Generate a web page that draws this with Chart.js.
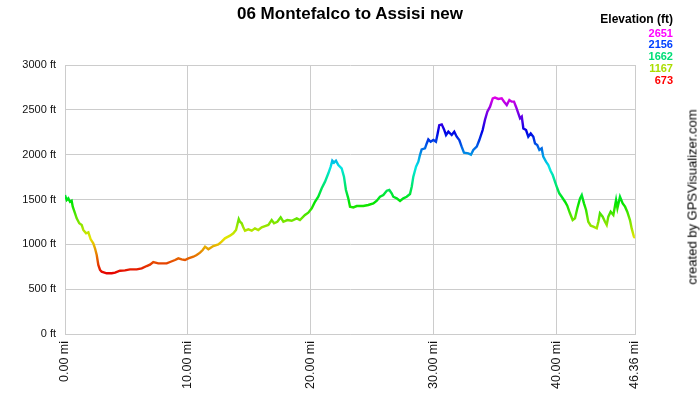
<!DOCTYPE html>
<html>
<head>
<meta charset="utf-8">
<script src="https://cdn.jsdelivr.net/npm/chart.js@4.4.1/dist/chart.umd.min.js"></script>
<style>
  body { margin: 0; background: #fff; }
  #wrap { position: relative; width: 700px; height: 400px; font-family: "Liberation Sans", Arial, sans-serif; }
  #title { position: absolute; left: 0; top: 4px; width: 700px; text-align: center; font-weight: bold; font-size: 17px; }
  #legend { position: absolute; right: 27px; top: 14px; text-align: right; font-weight: bold; font-size: 11px; line-height: 11.7px; }
  #legend .head { font-size: 12px; color: #000; margin-bottom: 2px; }
  #credit { position: absolute; left: 692px; top: 197px; transform: translate(-50%, -50%) rotate(-90deg); white-space: nowrap; font-size: 13px; }
</style>
</head>
<body>
<div id="wrap">
  <canvas id="profile" width="700" height="400"></canvas>
  <div id="title">06 Montefalco to Assisi new</div>
  <div id="legend"></div>
  <div id="credit">created by GPSVisualizer.com</div>
</div>
<script>
// distance along track (mi)
var miles = [0, 0.14, 0.27, 0.41, 0.54, 0.63, 0.81, 0.95, 1.16, 1.36, 1.49, 1.71, 1.90, 2.09, 2.30, 2.44, 2.58, 2.71, 2.85, 2.98,
  3.39, 3.80, 4.07, 4.47, 4.88, 5.29, 5.83, 6.24, 6.64, 6.91, 7.18, 7.59, 8.27, 8.54, 8.95, 9.22, 9.49, 9.76, 10.03, 10.44,
  10.71, 10.98, 11.20, 11.39, 11.66, 12.06, 12.47, 12.74, 13.01, 13.42, 13.69, 13.91, 14.01, 14.13, 14.23, 14.37, 14.50, 14.64,
  14.91, 15.19, 15.45, 15.72, 16.00, 16.27, 16.54, 16.81, 17.00, 17.27, 17.54, 17.76, 18.08, 18.44, 18.85, 19.11, 19.52, 19.79,
  20.07, 20.33, 20.60, 20.88, 21.15, 21.42, 21.61, 21.74, 21.88, 22.04, 22.23, 22.50, 22.69, 22.85, 23.04, 23.18, 23.45, 23.73,
  24.26, 24.67, 25.08, 25.36, 25.62, 25.89, 26.17, 26.38, 26.57, 26.70, 26.98, 27.25, 27.52, 27.79, 28.06, 28.20, 28.33, 28.55,
  28.74, 28.87, 29.01, 29.28, 29.42, 29.55, 29.74, 29.96, 30.17, 30.31, 30.44, 30.64, 30.83, 30.99, 31.18, 31.45, 31.66, 31.86,
  32.07, 32.26, 32.45, 32.80, 33.02, 33.21, 33.49, 33.70, 33.97, 34.16, 34.35, 34.57, 34.79, 34.97, 35.24, 35.52, 35.71, 35.93,
  36.14, 36.33, 36.52, 36.68, 36.87, 37.01, 37.15, 37.28, 37.50, 37.68, 37.88, 38.09, 38.23, 38.41, 38.58, 38.77, 38.90, 39.12,
  39.31, 39.50, 39.67, 39.85, 40.04, 40.20, 40.40, 40.67, 40.85, 41.07, 41.29, 41.48, 41.67, 41.89, 42.03, 42.21, 42.38, 42.56,
  42.76, 42.97, 43.25, 43.38, 43.51, 43.73, 43.92, 44.06, 44.19, 44.38, 44.60, 44.82, 44.93, 45.14, 45.36, 45.55, 45.73, 45.95,
  46.09, 46.27, 46.36];

// elevation (ft)
var elevation = [1550, 1494, 1513, 1475, 1487, 1420, 1349, 1290, 1235, 1216, 1160, 1123, 1134, 1056, 1011, 956, 881, 770, 714, 695,
  677, 677, 684, 706, 710, 721, 721, 732, 758, 773, 803, 788, 788, 803, 825, 844, 833, 825, 844, 862,
  881, 907, 937, 974, 945, 981, 1000, 1030, 1067, 1097, 1123, 1160, 1216, 1282, 1252, 1235, 1190, 1152,
  1167, 1152, 1178, 1160, 1190, 1204, 1216, 1271, 1235, 1252, 1301, 1252, 1271, 1263, 1290, 1271, 1327, 1353,
  1402, 1475, 1531, 1625, 1699, 1792, 1866, 1933, 1911, 1933, 1885, 1848, 1755, 1606, 1513, 1420, 1412, 1427,
  1427, 1439, 1457, 1487, 1531, 1550, 1598, 1606, 1569, 1531, 1513, 1483, 1513, 1531, 1561, 1643, 1755, 1866,
  1922, 1996, 2059, 2070, 2125, 2170, 2144, 2163, 2144, 2237, 2330, 2338, 2282, 2219, 2256, 2219, 2256, 2200,
  2163, 2089, 2022, 2014, 2000, 2052, 2089, 2163, 2275, 2390, 2480, 2535, 2628, 2636, 2621, 2628, 2591, 2554,
  2610, 2591, 2591, 2535, 2460, 2405, 2424, 2293, 2275, 2200, 2237, 2200, 2125, 2107, 2052, 2070, 1978, 1922,
  1885, 1818, 1773, 1699, 1625, 1569, 1531, 1475, 1431, 1346, 1271, 1290, 1402, 1513, 1550, 1457, 1383, 1252,
  1208, 1197, 1178, 1252, 1346, 1309, 1252, 1216, 1309, 1364, 1327, 1494, 1402, 1531, 1457, 1420, 1364, 1271,
  1178, 1085, 1070];

var xTicks = [0, 10, 20, 30, 40, 46.36];
var legendValues = [2651, 2156, 1662, 1167, 673];
var legendColors = ['#ff00ff', '#0040ff', '#00dd77', '#aadd00', '#ff0000'];

var minElev = 673, maxElev = 2651;

// legend on the right
var legend = document.getElementById('legend');
legend.innerHTML = '<div class="head">Elevation (ft)</div>';
legendValues.forEach(function(v, i) {
  legend.innerHTML += '<div style="color:' + legendColors[i] + '">' + v + '</div>';
});

var points = miles.map(function(m, i) { return { x: m, y: elevation[i] }; });

// colour the line by elevation: red (low) -> magenta (high)
function elevGradient(context) {
  var chart = context.chart;
  if (!chart.chartArea) return '#ff0000';
  var y = chart.scales.y;
  var g = chart.ctx.createLinearGradient(0, y.getPixelForValue(minElev), 0, y.getPixelForValue(maxElev));
  for (var i = 0; i <= 10; i++) {
    g.addColorStop(i / 10, 'hsl(' + (i * 30) + ',100%,45%)');
  }
  return g;
}

new Chart(document.getElementById('profile'), {
  type: 'line',
  data: {
    datasets: [{
      data: points,
      borderColor: elevGradient,
      borderWidth: 2.4,
      pointRadius: 0,
      tension: 0,
      fill: false
    }]
  },
  options: {
    responsive: false,
    animation: false,
    layout: { padding: { left: 0, right: 65, top: 65, bottom: 0 } },
    plugins: { legend: { display: false }, tooltip: { enabled: false } },
    scales: {
      x: {
        type: 'linear',
        min: 0,
        max: 46.36,
        afterBuildTicks: function(scale) {
          scale.ticks = xTicks.map(function(v) { return { value: v }; });
        },
        afterFit: function(scale) { scale.height = 66; },
        grid: { color: '#cccccc', lineWidth: 1, drawTicks: false },
        border: { color: '#cccccc' },
        ticks: {
          minRotation: 90,
          maxRotation: 90,
          padding: 7,
          color: '#111',
          font: { family: 'Liberation Sans', size: 12.5 },
          callback: function(v) { return Number(v).toFixed(2) + ' mi'; }
        }
      },
      y: {
        min: 0,
        max: 3000,
        afterFit: function(scale) { scale.width = 65; },
        grid: { color: '#cccccc', lineWidth: 1, drawTicks: false },
        border: { color: '#cccccc' },
        ticks: {
          stepSize: 500,
          padding: 9,
          color: '#111',
          font: { family: 'Liberation Sans', size: 11 },
          callback: function(v) { return v + ' ft'; }
        }
      }
    }
  }
});
</script>
</body>
</html>
